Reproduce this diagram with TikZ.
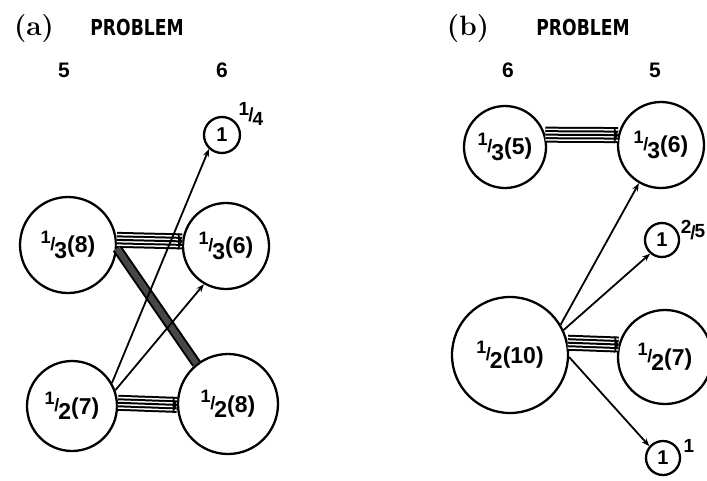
\documentclass[tikz,border=0pt]{standalone}
\usepackage{fontspec}
\newfontfamily\hand{Liberation Sans}
\newfontfamily\handc{DejaVu Sans}[FakeStretch=0.78]
\usetikzlibrary{arrows.meta}
\newcommand\fr[2]{\raisebox{0.4em}{\fontsize{18}{18}\selectfont #1}\kern-0.02em\raisebox{0.12em}{\fontsize{18}{18}\selectfont /}\kern-0.04em\raisebox{-0.24em}{#2}}
\begin{document}
\begin{tikzpicture}[x=1pt,y=-1pt,
  nd/.style={draw, circle, line width=2.3pt, inner sep=0pt, font=\hand\bfseries\fontsize{23}{23}\selectfont},
  sm/.style={draw, circle, line width=2.3pt, inner sep=0pt, font=\hand\bfseries\fontsize{20}{20}\selectfont},
  lab/.style={font=\hand\bfseries\fontsize{19}{19}\selectfont, inner sep=0pt},
  head/.style={font=\bfseries\fontsize{28}{28}\selectfont, inner sep=0pt},
  prob/.style={font=\handc\bfseries\fontsize{22}{22}\selectfont, inner sep=0pt},
  num/.style={font=\hand\bfseries\fontsize{21}{21}\selectfont, inner sep=0pt},
  arr/.style={line width=1.8pt, -{Stealth[length=8pt,width=6pt]}},
  band/.style={draw=black, line width=2pt,
    preaction={draw=black, line width=16pt},
    preaction={draw=white, line width=12pt},
    preaction={draw=black, line width=9pt},
    preaction={draw=white, line width=5pt}},
  bandtip/.style={line width=0.1pt, -{Triangle[length=4pt,width=17pt]}},
  diag/.style={line width=2pt, double=black!72, double distance=6pt},
]
\useasboundingbox (0,0) rectangle (707,480);

% ---------- panel (a)
\node[head] (la) at (34,29) {(a)};
\node[prob] (pa) at (137,27) {PROBLEM};
\node[num] (n5a) at (64,70) {5};
\node[num] (n6a) at (222,70) {6};

\node[nd, minimum size=96pt] (a38) at (68,245) {\fr{1}{3}(8)};
\node[nd, minimum size=86pt] (a36) at (226,246) {\fr{1}{3}(6)};
\node[sm, minimum size=36pt] (a1) at (222,135) {1};
\node[lab] (a1l) at (251,114) {\raisebox{0.3em}{1}\kern-0.05em/\kern-0.05em\raisebox{-0.2em}{4}};
\node[nd, minimum size=90pt] (a27) at (72,406) {\fr{1}{2}(7)};
\node[nd, minimum size=100pt] (a28) at (228,404) {\fr{1}{2}(8)};

\draw[band] (a38.6) -- (a36.174);
\draw[bandtip] ([xshift=-5pt]a36.174) -- (a36.174);
\draw[band] (a27.4) -- (a28.181);
\draw[bandtip] ([xshift=-5pt]a28.181) -- (a28.181);
\draw[diag] (a38.-4) -- (a28.128);
\draw[arr] (a27.30) -- (a1.-133);
\draw[arr] (a27.20) -- (a36.240);

% ---------- panel (b)
\node[head] (lb) at (468,29) {(b)};
\node[prob] (pb) at (583,27) {PROBLEM};
\node[num] (n6b) at (508,70) {6};
\node[num] (n5b) at (655,70) {5};

\node[nd, minimum size=82pt] (b35) at (505,147) {\fr{1}{3}(5)};
\node[nd, minimum size=86pt] (b36) at (661,145) {\fr{1}{3}(6)};
\node[sm, minimum size=34pt] (b1t) at (662,240) {1};
\node[lab] (b1tl) at (693,230) {\raisebox{0.3em}{2}\kern-0.05em/\kern-0.05em\raisebox{0.1em}{5}};
\node[nd, minimum size=116pt] (b210) at (510,355) {\fr{1}{2}(10)};
\node[nd, minimum size=94pt] (b27) at (665,357) {\fr{1}{2}(7)};
\node[sm, minimum size=34pt] (b1b) at (663,458) {1};
\node[lab] (b1bl) at (689,446) {1};

\draw[band] (b35.17) -- (b36.167);
\draw[bandtip] ([xshift=-5pt]b36.167) -- (b36.167);
\draw[band] (b210.12) -- (b27.165);
\draw[bandtip] ([xshift=-5pt]b27.165) -- (b27.165);
\draw[arr] (b210.31) -- (b36.240);
\draw[arr] (b210.25) -- (b1t.229);
\draw[arr] (b210.-2) -- (b1b.139);
\end{tikzpicture}
\end{document}
